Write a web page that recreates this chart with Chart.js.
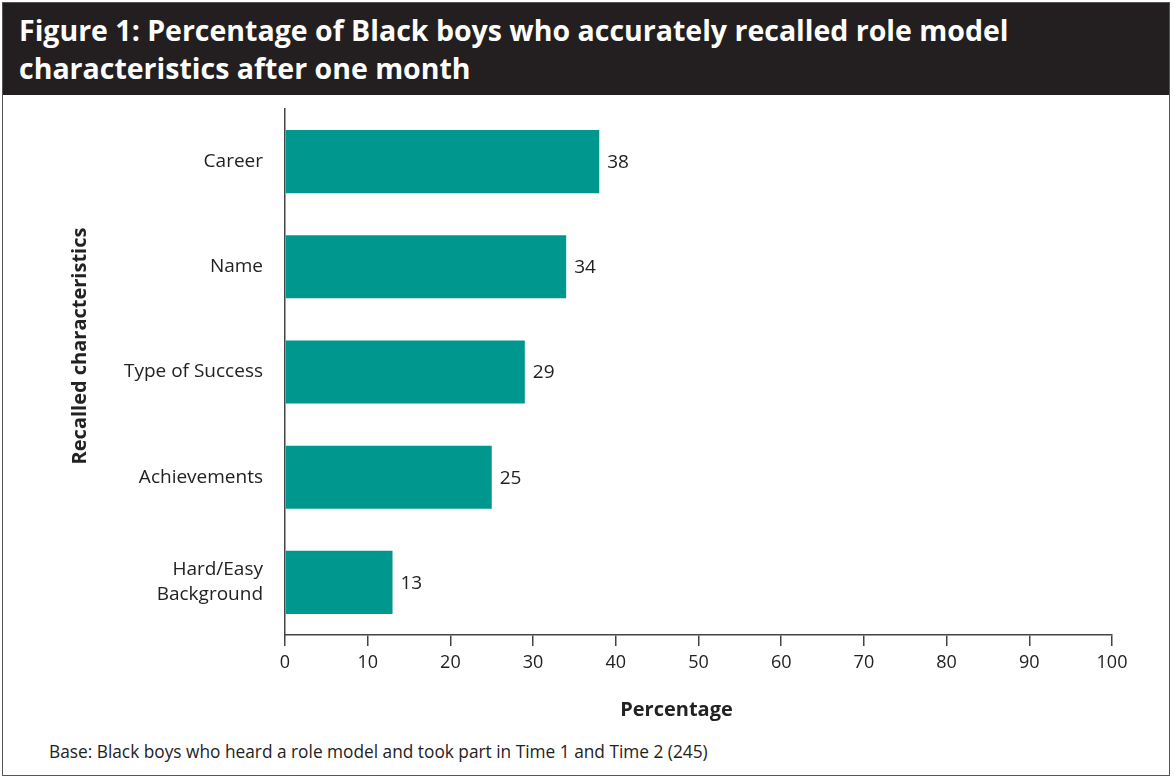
<!DOCTYPE html>
<html>
<head>
<meta charset="utf-8">
<script src="https://cdn.jsdelivr.net/npm/chart.js@4/dist/chart.umd.min.js"></script>
<style>
  body { margin: 0; background: #fff; }
  #frame {
    position: absolute; left: 2px; top: 2px; width: 1168px; height: 774px;
    border: 1.5px solid #555; box-sizing: border-box; overflow: hidden;
  }
  #header {
    position: absolute; left: 0; top: 0; width: 100%; height: 92px;
    background: #231f20; color: #fff;
    font-family: "Open Sans", sans-serif; font-weight: 700; font-size: 28.5px;
    line-height: 38px; padding: 8px 0 0 16px; box-sizing: border-box;
  }
  #wrap { position: absolute; left: 0; top: 92px; width: 1166px; height: 640px; }
  #note {
    position: absolute; left: 46px; top: 737px;
    font-family: "Open Sans", sans-serif; font-size: 17.3px; color: #222;
  }
</style>
</head>
<body>
<div id="frame">
  <div id="header">Figure 1: Percentage of Black boys who accurately recalled role model<br>characteristics after one month</div>
  <div id="wrap"><canvas id="chart"></canvas></div>
  <div id="note">Base: Black boys who heard a role model and took part in Time 1 and Time 2 (245)</div>
</div>
<script>
// Data
const categories = ['Career', 'Name', 'Type of Success', 'Achievements', ['Hard/Easy', 'Background']];
const values = [38, 34, 29, 25, 13];
const xTicks = [0, 10, 20, 30, 40, 50, 60, 70, 80, 90, 100];

const teal = '#00978f';
const ink = '#222';

// value labels at the end of each bar, plus the two axis titles
const extras = {
  id: 'extras',
  afterDatasetsDraw(chart) {
    const c = chart.ctx;
    const a = chart.chartArea;
    c.save();
    c.font = '19px "Open Sans"';
    c.fillStyle = ink;
    c.textAlign = 'left';
    c.textBaseline = 'middle';
    chart.getDatasetMeta(0).data.forEach((bar, i) => {
      c.fillText(values[i], bar.x + 8, bar.y + 1);
    });

    c.font = 'bold 20px "Open Sans"';
    c.textAlign = 'center';
    c.fillText('Percentage', (a.left + a.right) / 2 - 22, a.bottom + 75);

    c.translate(a.left - 205, (a.top + a.bottom) / 2 - 26);
    c.rotate(-Math.PI / 2);
    c.fillText('Recalled characteristics', 0, 0);
    c.restore();
  }
};

const ctx = document.getElementById('chart').getContext('2d');
const chart = new Chart(ctx, {
  type: 'bar',
  data: {
    labels: categories,
    datasets: [{
      data: values,
      backgroundColor: teal,
      borderWidth: 0,
      categoryPercentage: 0.6,
      barPercentage: 1
    }]
  },
  options: {
    indexAxis: 'y',
    responsive: true,
    maintainAspectRatio: false,
    animation: false,
    layout: { padding: { top: 14, right: 57, bottom: 0, left: 0 } },
    plugins: { legend: { display: false }, tooltip: { enabled: false } },
    scales: {
      x: {
        min: 0, max: 100,
        afterBuildTicks(scale) { scale.ticks = xTicks.map(v => ({ value: v })); },
        grid: { drawOnChartArea: false, drawTicks: true, tickLength: 11, color: '#444', lineWidth: 1.5 },
        border: { color: '#444', width: 1.5 },
        ticks: { color: ink, font: { family: 'Open Sans', size: 18 }, padding: 6 },
        afterFit(scale) { scale.height = 100; }
      },
      y: {
        grid: { display: false },
        border: { color: '#444', width: 1.5 },
        ticks: { color: ink, font: { family: 'Open Sans', size: 19, lineHeight: 1.3 }, padding: 14 },
        afterFit(scale) {
          scale.width = 282;
          scale.paddingTop = 0;
          scale.paddingBottom = 0;
        }
      }
    }
  },
  plugins: [extras]
});
</script>
</body>
</html>
